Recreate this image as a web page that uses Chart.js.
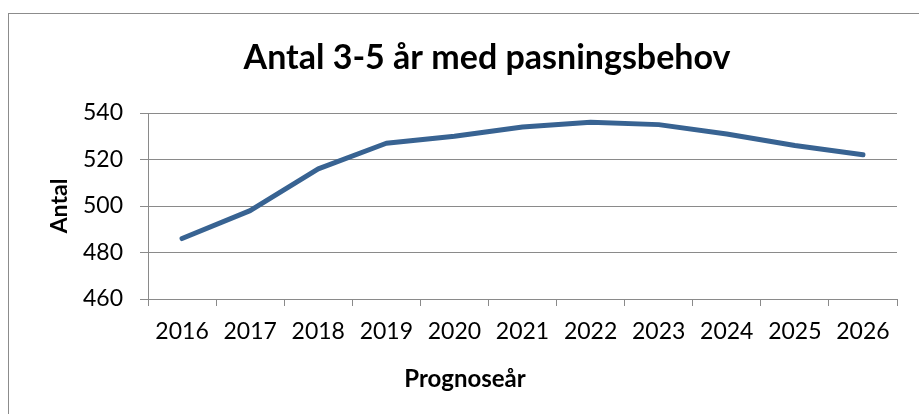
<!DOCTYPE html>
<html>
<head>
<meta charset="utf-8">
<script src="https://cdn.jsdelivr.net/npm/chart.js@4"></script>
<style>
  html, body { margin: 0; padding: 0; background: #fff; overflow: hidden; }
  #frame { position: absolute; left: 8px; top: 13px; width: 1000px; height: 500px; border: 1px solid #8c8c8c; }
  #wrap { position: absolute; left: 0; top: 0; width: 919px; height: 414px; }
</style>
</head>
<body>
<div id="frame"></div>
<div id="wrap"><canvas id="chart" width="919" height="414"></canvas></div>
<script>
// data
const years = ["2016", "2017", "2018", "2019", "2020", "2021", "2022", "2023", "2024", "2025", "2026"];
const antal = [486, 498, 516, 527, 530, 534, 536, 535, 531, 526, 522];
const yTicks = [460, 480, 500, 520, 540];

const chartTitle = "Antal 3-5 år med pasningsbehov";
const xTitle = "Prognoseår";
const yTitle = "Antal";

const gridColor = "#8a8a8a";
const fontName = "Lato, 'Open Sans', sans-serif";

// Excel-ish titles, drawn off-centre like the original
const titles = {
  id: "titles",
  afterDraw(chart) {
    const c = chart.ctx;
    c.save();
    c.fillStyle = "#000";
    c.textAlign = "center";
    c.textBaseline = "alphabetic";
    c.font = "bold 34px " + fontName;
    c.fillText(chartTitle, 487, 69);
    c.font = "bold 24px " + fontName;
    c.fillText(xTitle, 465, 387);
    c.restore();
  }
};

const ctx = document.getElementById("chart").getContext("2d");
new Chart(ctx, {
  type: "line",
  data: {
    labels: years,
    datasets: [
      {
        data: antal,
        borderColor: "#386392",
        borderWidth: 5,
        borderCapStyle: "round",
        borderJoinStyle: "round",
        pointRadius: 0,
        tension: 0,
        fill: false,
      },
    ],
  },
  options: {
    responsive: false,
    animation: false,
    layout: { padding: { top: 113, right: 22, left: 0, bottom: 0 } },
    scales: {
      x: {
        offset: true,
        afterFit: (s) => { s.height = 115; },
        grid: { offset: true, drawOnChartArea: false, color: gridColor, tickLength: 7 },
        border: { color: gridColor },
        ticks: { color: "#000", font: { family: fontName, size: 23 }, padding: 12, maxRotation: 0 },
      },
      y: {
        min: 460,
        max: 540,
        afterBuildTicks: (s) => { s.ticks = yTicks.map((v) => ({ value: v })); },
        afterFit: (s) => { s.width = 148; },
        grid: { color: gridColor, tickLength: 8 },
        border: { color: gridColor },
        ticks: { color: "#000", font: { family: fontName, size: 23 }, padding: 17 },
        title: {
          display: true,
          text: yTitle,
          color: "#000",
          font: { family: fontName, size: 23, weight: "bold" },
          padding: { top: 46, bottom: 0 },
        },
      },
    },
    plugins: {
      legend: { display: false },
      tooltip: { enabled: false },
      title: { display: false },
    },
  },
  plugins: [titles],
});
</script>
</body>
</html>
